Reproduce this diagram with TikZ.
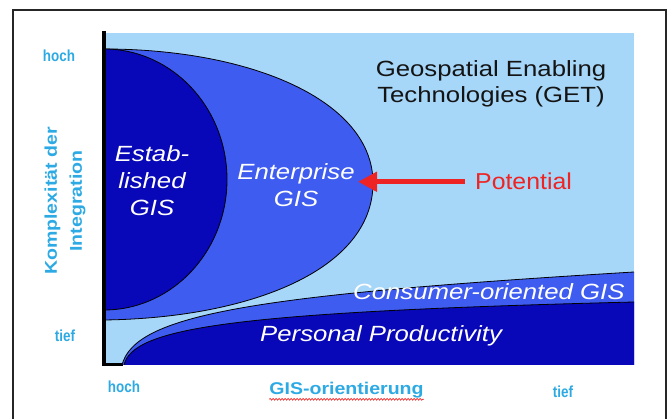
\documentclass[tikz,border=0pt]{standalone}
\usepackage{fontspec}
\setmainfont{Liberation Sans}
\newfontfamily\fwide[FakeStretch=1.17]{Liberation Sans}
\newfontfamily\faxis[FakeStretch=1.15]{Liberation Sans}
\newfontfamily\fnarrow[FakeStretch=0.84]{Liberation Sans}
\newfontfamily\fpot[FakeStretch=1.08]{Liberation Sans}
\usetikzlibrary{arrows.meta,decorations.pathmorphing}
\definecolor{bgblue}{RGB}{166,214,248}
\definecolor{midblue}{RGB}{62,92,240}
\definecolor{darkblue}{RGB}{8,8,184}
\definecolor{axisblue}{RGB}{45,170,228}
\definecolor{potred}{RGB}{238,36,36}
\begin{document}
\begin{tikzpicture}[x=1pt,y=-1pt,
  outline/.style={draw=black, line width=0.8pt},
  inlabel/.style={text=white, font=\fwide\itshape\fontsize{22}{27}\selectfont, align=center, inner sep=0pt},
  bandlabel/.style={text=white, font=\fwide\itshape\fontsize{22}{27}\selectfont, inner sep=0pt},
  getlabel/.style={text=black!92, font=\fwide\fontsize{22}{26}\selectfont, align=center, inner sep=0pt},
  axislab/.style={text=axisblue, font=\faxis\bfseries\fontsize{17}{25}\selectfont, align=center, inner sep=0pt},
  endlab/.style={text=axisblue, font=\fnarrow\bfseries\fontsize{16}{19}\selectfont, inner sep=0pt},
  potlab/.style={text=potred, font=\fpot\fontsize{23}{27}\selectfont, inner xsep=10pt, inner ysep=0pt},
  potarrow/.style={draw=potred, line width=5pt, -{Triangle[length=19pt,width=19pt]}},
  squiggle/.style={draw=potred, line width=0.7pt, decorate, decoration={snake, amplitude=0.9pt, segment length=3pt}}
]
\useasboundingbox (0,0) rectangle (672,419);
\fill[white] (0,0) rectangle (672,419);
% outer frame
\draw[line width=1.3pt, black!85] (13,425) -- (13,10) -- (666,10) -- (666,425);
% background region (GET)
\fill[bgblue] (106,33) rectangle (634,365);
% consumer-oriented GIS band
\fill[midblue] (122,365) .. controls (135,315) and (250,295) .. (634,272) -- (634,365) -- cycle;
\draw[outline] (122,365) .. controls (135,315) and (250,295) .. (634,272);
% personal productivity band
\fill[darkblue] (124,365) .. controls (133,328) and (230,312) .. (634,302) -- (634,365) -- cycle;
\draw[outline] (124,365) .. controls (133,328) and (230,312) .. (634,302);
% enterprise GIS
\filldraw[fill=midblue, outline] (104,49) .. controls (250,49) and (373,100) .. (373,183)
   .. controls (373,270) and (250,318) .. (104,320) -- cycle;
% established GIS
\filldraw[fill=darkblue, outline] (104,49) arc[start angle=-90, end angle=90, x radius=123, y radius=130.5] -- cycle;
% axes
\draw[line width=4.5pt] (104,31) -- (104,366.5);
\draw[line width=3pt] (102,364.5) -- (123,364.5);
% labels inside
\node[inlabel] (est) at (152,180.5) {Estab-\\lished\\GIS};
\node[inlabel] (ent) at (296,185.5) {Enterprise\\GIS};
\node[bandlabel, anchor=base west] (cons) at (353,300) {Consumer-oriented GIS};
\node[bandlabel, anchor=base west] (pers) at (260,342) {Personal Productivity};
\node[getlabel] (get) at (491,84.3) {Geospatial Enabling\\Technologies (GET)};
% potential arrow
\node[potlab, anchor=base west] (pot) at (465,190) {Potential};
\coordinate (tip) at (358,181);
\draw[potarrow] (pot.west) -- (pot.west -| tip);
% axis labels
\node[axislab, rotate=90] (ylab) at (65,201) {Komplexität der\\Integration};
\node[endlab, anchor=base] (yhigh) at (59,62) {hoch};
\node[endlab, anchor=base] (ylow) at (65,342) {tief};
\node[endlab, anchor=base] (xhigh) at (124,392) {hoch};
\node[endlab, anchor=base] (xlow) at (563,398) {tief};
\node[axislab, anchor=base] (xlab) at (346.5,395) {GIS-orientierung};
\draw[squiggle] ([yshift=-0.5pt]xlab.south west) -- ([yshift=-0.5pt]xlab.south east);
\end{tikzpicture}
\end{document}
